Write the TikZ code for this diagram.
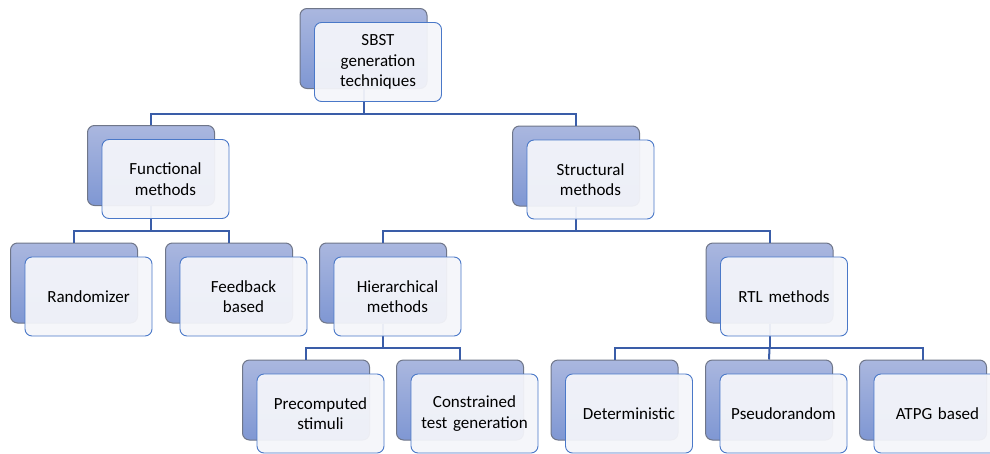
\documentclass[tikz,border=0pt]{standalone}
\usepackage{fontspec}
\setmainfont{Carlito}
\usetikzlibrary{calc}
\definecolor{backtop}{HTML}{AAB7DF}
\definecolor{backbot}{HTML}{7F97D3}
\definecolor{backedge}{HTML}{6F7689}
\definecolor{frontfill}{HTML}{F4F5FA}
\definecolor{frontedge}{HTML}{4A78C8}
\definecolor{linkcol}{HTML}{3A5DA8}
\tikzset{
  backbox/.style={draw=backedge, line width=1pt, rounded corners=7pt,
    top color=backtop, bottom color=backbot, minimum width=127pt, minimum height=80pt, inner sep=0pt},
  frontbox/.style={draw=frontedge, line width=0.9pt, rounded corners=7pt,
    fill=frontfill, fill opacity=0.94, text opacity=1, minimum width=127pt, minimum height=79pt,
    inner sep=0pt, text width=124pt, align=center, font=\fontsize{17}{20.5}\selectfont, text=black},
  link/.style={draw=linkcol, line width=2pt}
}
\newcommand{\backnode}[3]{\node[backbox] (#1-b) at (#2,#3) {};}
\newcommand{\frontnode}[2]{\node[frontbox] (#1) at ($(#1-b)+(14.5,13.5)$) {#2};}
\begin{document}
\begin{tikzpicture}[x=1pt,y=-1pt]
\useasboundingbox (0,0) rectangle (990,453);
% back boxes
\backnode{root}{363.5}{48.5}
\backnode{func}{151}{165.5}
\backnode{struct}{576}{166}
\backnode{rand}{74}{283}
\backnode{feed}{229}{283}
\backnode{hier}{383}{283}
\backnode{rtl}{769.5}{283}
\backnode{prec}{306}{400}
\backnode{cons}{460}{400}
\backnode{det}{614.5}{400}
\backnode{pseudo}{769}{400}
\backnode{atpg}{923}{400}
% buses
\coordinate (bus1) at (0,114);
\coordinate (bus2) at (0,231);
\coordinate (bus3) at (0,348);
% connectors
\draw[link] (root-b.south) -- (root-b.south |- bus1) -| (func-b.north);
\draw[link] (root-b.south |- bus1) -| (struct-b.north);
\draw[link] (func-b.south) -- (func-b.south |- bus2) -| (rand-b.north);
\draw[link] (func-b.south |- bus2) -| (feed-b.north);
\draw[link] (struct-b.south) -- (struct-b.south |- bus2) -| (hier-b.north);
\draw[link] (struct-b.south |- bus2) -| (rtl-b.north);
\draw[link] (hier-b.south) -- (hier-b.south |- bus3) -| (prec-b.north);
\draw[link] (hier-b.south |- bus3) -| (cons-b.north);
\draw[link] (rtl-b.south) -- (rtl-b.south |- bus3) -| (det-b.north);
\draw[link] (rtl-b.south |- bus3) -- (pseudo-b.north);
\draw[link] (rtl-b.south |- bus3) -| (atpg-b.north);
% front boxes
\frontnode{root}{SBST\\generation\\techniques}
\frontnode{func}{Functional\\methods}
\frontnode{struct}{Structural\\methods}
\frontnode{rand}{Randomizer}
\frontnode{feed}{Feedback\\based}
\frontnode{hier}{Hierarchical\\methods}
\frontnode{rtl}{RTL methods}
\frontnode{prec}{Precomputed\\stimuli}
\frontnode{cons}{Constrained\\test generation}
\frontnode{det}{Deterministic}
\frontnode{pseudo}{Pseudorandom}
\frontnode{atpg}{ATPG based}
\end{tikzpicture}
\end{document}
